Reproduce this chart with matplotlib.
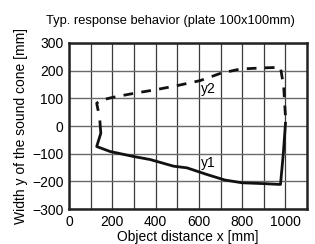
import matplotlib
matplotlib.use("Agg")
import matplotlib.pyplot as plt

plt.rcParams['font.family'] = ['Liberation Sans', 'DejaVu Sans']

# y2 (dashed, upper edge of the cone)
y2_x = [135, 128, 145, 205, 300, 400, 500, 606, 699, 792, 900, 977, 992, 1000]
y2_y = [55, 82, 93, 104, 118, 131, 146, 164, 190, 206, 210, 212, 140, 33]

# y1 (solid, lower edge of the cone)
y1_x = [143, 147, 128, 190, 298, 375, 483, 545, 637, 720, 800, 900, 977, 990, 1000]
y1_y = [15, -26, -74, -92, -110, -121, -145, -151, -175, -195, -205, -208, -211, -100, 10]

fig = plt.figure(figsize=(3.15, 2.44), dpi=100)
ax = fig.add_axes([0.219, 0.143, 0.756, 0.681])

ax.plot(y2_x, y2_y, color='#111111', lw=2, ls=(0, (3.5, 3)))
ax.plot(y1_x, y1_y, color='#111111', lw=2)
ax.text(645, 135, 'y2', fontsize=10, ha='center', va='center')
ax.text(645, -133, 'y1', fontsize=10, ha='center', va='center')

ax.set_xlim(0, 1100)
ax.set_ylim(-300, 300)
ax.set_xticks([0, 200, 400, 600, 800, 1000])
ax.set_xticks(range(0, 1100, 100), minor=True)
ax.set_yticks(range(-300, 301, 100))
ax.grid(True, which='both', axis='x', color='#3a3a3a', lw=0.9)
ax.grid(True, axis='y', color='#6a6a6a', lw=1.0)
ax.tick_params(which='both', length=0, labelsize=10, pad=4)
for s in ax.spines.values():
    s.set_linewidth(1.8)
    s.set_color('#222222')

ax.set_xlabel('Object distance x [mm]', fontsize=10, labelpad=1)
ax.set_ylabel('Width y of the sound cone [mm]', fontsize=10, labelpad=3)
fig.text(170 / 315, 1 - 21 / 244, 'Typ. response behavior (plate 100x100mm)',
         fontsize=9.3, ha='center', va='center')

fig.savefig('out.png', dpi=100)
